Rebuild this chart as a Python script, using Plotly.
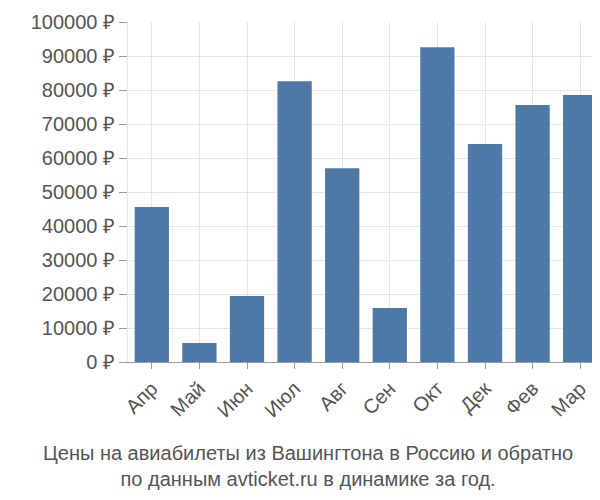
import plotly.graph_objects as go

months = ["Апр", "Май", "Июн", "Июл", "Авг", "Сен", "Окт", "Дек", "Фев", "Мар"]
prices = [45600, 5600, 19400, 82600, 57000, 15900, 92600, 64100, 75600, 78500]
y_ticks = list(range(0, 100001, 10000))
y_labels = [f"{v} ₽" for v in y_ticks]

fig = go.Figure(go.Bar(x=months, y=prices, marker_color="#4e79a7",
                       marker_line_width=0, width=0.72))

fig.update_layout(
    width=600, height=500,
    margin=dict(l=120, r=4, t=14, b=146, autoexpand=False),
    plot_bgcolor="white", paper_bgcolor="white",
    font=dict(family="Liberation Sans, Arial", size=20, color="#555555"),
    showlegend=False,
    bargap=0.28,
)
fig.update_yaxes(range=[0, 100000], tickvals=y_ticks, ticktext=y_labels,
                 showgrid=True, gridcolor="#e6e6e6", ticks="outside",
                 ticklen=8, tickcolor="#999999", zeroline=False,
                 showline=True, linecolor="#e6e6e6", automargin=False)
fig.update_xaxes(tickangle=-45, ticks="outside", ticklen=6, tickcolor="#999999",
                 showline=True, linecolor="#999999", showgrid=True, gridcolor="#e6e6e6",
                 automargin=False)

fig.add_annotation(text="Цены на авиабилеты из Вашингтона в Россию и обратно<br>по данным avticket.ru в динамике за год.",
                   x=(300 - 120) / 476, y=0, xref="paper", yref="paper", xanchor="center", yanchor="top",
                   yshift=-78, showarrow=False,
                   font=dict(size=20, color="#555555"))

fig.write_html("out.html")
